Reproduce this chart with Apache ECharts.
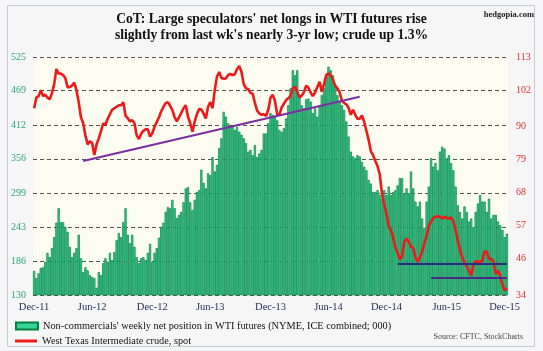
<!DOCTYPE html>
<html>
<head>
<meta charset="utf-8">
<script src="https://cdn.jsdelivr.net/npm/echarts@6/dist/echarts.min.js"></script>
<style>
  html, body { margin: 0; padding: 0; background: #ffffff; }
  #chart { width: 543px; height: 351px; }
</style>
</head>
<body>
<div id="chart"></div>
<script>
// weekly net position, non-commercials (000 contracts)
const netLongs = [
  170,158,166,175,176,185,200,193,208,226,250,274,251,251,243,235,210,193,200,208,
  230,191,168,176,171,163,160,158,142,168,163,183,191,185,200,188,201,221,233,226,
  251,274,230,216,230,210,193,183,191,193,188,200,215,185,200,208,225,243,250,268,
  276,274,288,274,258,263,268,284,307,309,284,271,288,301,304,338,316,307,332,329,
  359,335,346,374,390,434,426,415,412,409,404,409,401,396,390,382,368,371,362,379,
  359,365,371,398,398,415,432,429,426,420,404,401,407,423,445,473,503,495,503,462,
  445,440,455,456,451,432,440,426,445,462,473,492,509,503,495,479,462,451,445,437,
  418,393,368,360,357,362,360,351,343,337,321,315,301,301,304,296,290,304,296,310,
  296,301,304,312,324,324,299,307,299,335,307,285,277,285,257,241,285,310,357,343,
  349,337,368,376,373,357,362,349,337,310,279,268,257,277,268,252,257,243,268,282,
  296,285,285,268,290,257,263,263,252,246,238,226,232
];

// WTI crude, spot ($/bbl)
const crude = [
  96,99.5,100,102,100,100.5,99.5,99,101,104,109,107.5,107.5,107,106,103,103,103.5,104.5,102,
  98,93,91,87,84,85,84.5,80.5,84,86,88.5,91,90.5,92.5,94,95.5,96,96.5,97,97,
  98,93.5,92.7,91.6,92,91,87,85.8,87.5,88.5,89,89,86.6,87.7,89.9,91.4,93,95,96.5,97.7,
  98,96.8,95.4,93,91.6,93,94.5,96,97,93.2,91,88.2,91.5,94,95.7,95.6,94.2,92.6,96.5,98,
  96,102,106.5,108,106,105.8,105.9,107,107.4,107,107.3,109,110,108,104,102.6,102.4,101.1,100.8,97.8,
  95.2,94.3,93.8,94,93.4,95.5,99.5,100.5,98.5,94,93.8,96.3,97.5,98.7,99.3,100.2,102.6,103.1,101.5,99.5,
  100.2,101.3,103.5,102.8,101.2,100,101.2,103,104.8,101.5,104,107,107.6,106.8,105.5,103.5,102.6,101.3,98.5,97.8,
  97.2,96.2,93.8,95.5,93.8,92.5,92.5,93.6,91.5,88.5,85.5,81.7,80.4,78.5,76.8,74,67.5,63.9,61,56.8,
  55.5,53,49.8,48,45.8,47,51.7,52.8,51.7,50,49.6,46.5,45,46.5,48.4,51.1,53.6,57,58.3,59.5,
  60,60,60,59.4,60,59.5,59.4,59.7,58.4,55.5,52,48.9,46.4,44.8,43.6,41.9,40.5,44,45.3,45,
  45,45.4,48.5,48.3,46,46,45,41,42,40.5,37.5,35.5,36.2
];

const weeks = netLongs.map((v, i) => 'w' + i);

const leftTicks = [130, 186, 243, 299, 356, 412, 469, 525];
const rightTicks = [34, 46, 57, 68, 79, 90, 102, 113];
const xTickIdx = [0, 26, 53, 79, 106, 132, 158, 185, 211];
const xTickText = ['Dec-11', 'Jun-12', 'Dec-12', 'Jun-13', 'Dec-13', 'Jun-14', 'Dec-14', 'Jun-15', 'Dec-15'];

// trend lines drawn on crude: [week index, price]
const trendUp = [[22, 78.5], [146, 99.8]];
const supportHi = [[163, 44.4], [212, 44.4]];
const supportLo = [[178, 39.6], [212, 39.6]];

const barName = "Non-commercials' weekly net position in WTI futures (NYME, ICE combined; 000)";
const lineName = 'West Texas Intermediate crude, spot';
const serif = '"Liberation Serif", "DejaVu Serif", serif';

const chart = echarts.init(document.getElementById('chart'));

function seg(pts, color) {
  return [
    { coord: pts[0], lineStyle: { color: color, width: 2, type: 'solid' } },
    { coord: pts[1] }
  ];
}

const legendText = { fontFamily: serif, fontSize: 10.3, color: '#111' };

const option = {
  animation: false,
  backgroundColor: '#f5f6f5',
  title: [
    {
      text: "CoT: Large speculators' net longs in WTI futures rise\nslightly from last wk's nearly 3-yr low; crude up 1.3%",
      left: 'center',
      top: 11,
      padding: 0,
      textStyle: { fontFamily: serif, fontSize: 13.6, fontWeight: 'bold', color: '#111', lineHeight: 16 }
    },
    {
      text: 'hedgopia.com',
      right: 9,
      top: 10,
      padding: 0,
      textStyle: { fontFamily: serif, fontSize: 8.5, fontWeight: 'bold', color: '#222' }
    },
    {
      text: 'Source: CFTC, StockCharts',
      right: 20,
      top: 333,
      padding: 0,
      textStyle: { fontFamily: serif, fontSize: 8, fontWeight: 'normal', color: '#444' }
    }
  ],
  graphic: [
    {
      type: 'rect',
      shape: { x: 7.5, y: 5.5, width: 527, height: 341 },
      style: { fill: 'none', stroke: '#c8ccd6', lineWidth: 1 },
      silent: true
    }
  ],
  legend: [
    {
      left: 15,
      top: 321,
      padding: 0,
      itemWidth: 22,
      itemHeight: 7,
      selectedMode: false,
      textStyle: legendText,
      data: [{ name: barName, icon: 'rect' }]
    },
    {
      left: 15,
      top: 336,
      padding: 0,
      itemWidth: 22,
      itemHeight: 3,
      selectedMode: false,
      textStyle: legendText,
      data: [{ name: lineName, icon: 'rect' }]
    }
  ],
  grid: {
    left: 33,
    right: 35,
    top: 57,
    bottom: 56,
    show: true,
    backgroundColor: '#fdfcf1',
    borderWidth: 0
  },
  xAxis: {
    type: 'category',
    data: weeks,
    boundaryGap: true,
    axisLine: { show: false },
    axisTick: { show: false },
    axisLabel: {
      interval: (i) => xTickIdx.includes(i),
      formatter: (v, i) => xTickText[xTickIdx.indexOf(i)] || '',
      fontFamily: serif,
      fontSize: 10.5,
      color: '#1f2b55',
      margin: 7
    }
  },
  yAxis: [
    {
      type: 'value',
      min: 130,
      max: 525,
      axisLine: { show: false },
      axisTick: { show: false, customValues: leftTicks },
      axisLabel: {
        customValues: leftTicks,
        fontFamily: serif,
        fontSize: 10,
        color: '#2aa57c',
        margin: 7
      },
      splitLine: { show: true, lineStyle: { color: '#555', width: 1, type: [4, 3] } }
    },
    {
      type: 'value',
      min: 34,
      max: 113,
      position: 'right',
      axisLine: { show: false },
      axisTick: { show: false, customValues: rightTicks },
      axisLabel: {
        customValues: rightTicks,
        fontFamily: serif,
        fontSize: 10,
        color: '#d83434',
        margin: 8
      },
      splitLine: { show: false }
    }
  ],
  series: [
    {
      name: barName,
      type: 'bar',
      data: netLongs,
      barCategoryGap: '0%',
      silent: true,
      itemStyle: { color: '#36d49b', borderColor: '#077f40', borderWidth: 0.7 }
    },
    {
      name: lineName,
      type: 'line',
      yAxisIndex: 1,
      data: crude,
      symbol: 'none',
      silent: true,
      lineStyle: { color: '#ec1a1a', width: 2.6 },
      itemStyle: { color: '#ec1a1a' },
      markLine: {
        silent: true,
        symbol: ['none', 'none'],
        label: { show: false },
        emphasis: { disabled: true },
        data: [
          seg(trendUp, '#7a2ea2'),
          seg(supportHi, '#2b2a80'),
          seg(supportLo, '#4a2a8a')
        ]
      }
    }
  ]
};

chart.setOption(option);
</script>
</body>
</html>
